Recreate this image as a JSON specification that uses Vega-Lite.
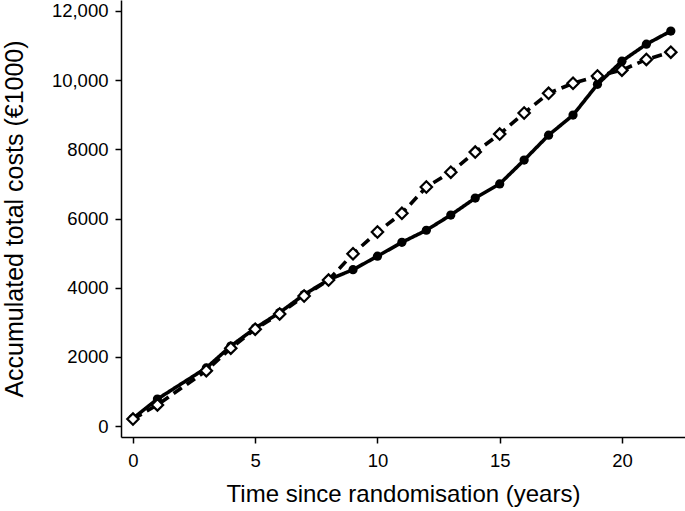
{
  "$schema": "https://vega.github.io/schema/vega-lite/v6.json",
  "width": 564,
  "height": 437,
  "autosize": "none",
  "padding": {"left": 121, "top": 0, "right": 0, "bottom": 74},
  "background": "white",
  "config": {
    "view": {"stroke": null},
    "font": "Liberation Sans",
    "axis": {
      "grid": false,
      "domainColor": "black",
      "domainWidth": 1.5,
      "tickColor": "black",
      "tickWidth": 1.5,
      "tickSize": 6,
      "labelColor": "black",
      "titleColor": "black",
      "labelFont": "Liberation Sans",
      "titleFont": "Liberation Sans",
      "labelFontSize": 18.5,
      "titleFontSize": 24,
      "titleFontWeight": "normal"
    }
  },
  "data": {
    "values": [
      {"year": 0, "cost": 220, "group": "A"},
      {"year": 1, "cost": 780, "group": "A"},
      {"year": 3, "cost": 1680, "group": "A"},
      {"year": 4, "cost": 2310, "group": "A"},
      {"year": 5, "cost": 2830, "group": "A"},
      {"year": 6, "cost": 3280, "group": "A"},
      {"year": 7, "cost": 3800, "group": "A"},
      {"year": 8, "cost": 4230, "group": "A"},
      {"year": 9, "cost": 4520, "group": "A"},
      {"year": 10, "cost": 4910, "group": "A"},
      {"year": 11, "cost": 5310, "group": "A"},
      {"year": 12, "cost": 5660, "group": "A"},
      {"year": 13, "cost": 6100, "group": "A"},
      {"year": 14, "cost": 6590, "group": "A"},
      {"year": 15, "cost": 7000, "group": "A"},
      {"year": 16, "cost": 7690, "group": "A"},
      {"year": 17, "cost": 8410, "group": "A"},
      {"year": 18, "cost": 8990, "group": "A"},
      {"year": 19, "cost": 9880, "group": "A"},
      {"year": 20, "cost": 10550, "group": "A"},
      {"year": 21, "cost": 11040, "group": "A"},
      {"year": 22, "cost": 11420, "group": "A"},
      {"year": 0, "cost": 200, "group": "B"},
      {"year": 1, "cost": 610, "group": "B"},
      {"year": 3, "cost": 1600, "group": "B"},
      {"year": 4, "cost": 2250, "group": "B"},
      {"year": 5, "cost": 2800, "group": "B"},
      {"year": 6, "cost": 3240, "group": "B"},
      {"year": 7, "cost": 3760, "group": "B"},
      {"year": 8, "cost": 4220, "group": "B"},
      {"year": 9, "cost": 4980, "group": "B"},
      {"year": 10, "cost": 5610, "group": "B"},
      {"year": 11, "cost": 6150, "group": "B"},
      {"year": 12, "cost": 6910, "group": "B"},
      {"year": 13, "cost": 7340, "group": "B"},
      {"year": 14, "cost": 7920, "group": "B"},
      {"year": 15, "cost": 8440, "group": "B"},
      {"year": 16, "cost": 9050, "group": "B"},
      {"year": 17, "cost": 9620, "group": "B"},
      {"year": 18, "cost": 9910, "group": "B"},
      {"year": 19, "cost": 10120, "group": "B"},
      {"year": 20, "cost": 10290, "group": "B"},
      {"year": 21, "cost": 10600, "group": "B"},
      {"year": 22, "cost": 10810, "group": "B"}
    ]
  },
  "encoding": {
    "x": {
      "field": "year",
      "type": "quantitative",
      "scale": {"domain": [-0.49, 22.58], "nice": false, "zero": false},
      "axis": {"values": [0, 5, 10, 15, 20], "title": "Time since randomisation (years)", "titlePadding": 13, "labelPadding": 8}
    },
    "y": {
      "field": "cost",
      "type": "quantitative",
      "scale": {"domain": [-318, 12318], "nice": false, "zero": false},
      "axis": {
        "values": [0, 2000, 4000, 6000, 8000, 10000, 12000],
        "labelExpr": "datum.value >= 10000 ? format(datum.value, ',') : format(datum.value, 'd')",
        "title": "Accumulated total costs (€1000)",
        "titleFontSize": 25,
        "titlePadding": 24,
        "labelPadding": 7
      }
    }
  },
  "layer": [
    {
      "mark": {"type": "line", "color": "black", "strokeWidth": 3.6},
      "encoding": {
        "detail": {"field": "group"},
        "strokeDash": {
          "field": "group",
          "type": "nominal",
          "scale": {"domain": ["A", "B"], "range": [[1, 0], [10, 6]]},
          "legend": null
        }
      }
    },
    {
      "transform": [{"filter": "datum.group === 'A'"}],
      "mark": {"type": "point", "shape": "circle", "filled": true, "color": "black", "size": 85, "opacity": 1}
    },
    {
      "transform": [{"filter": "datum.group === 'B'"}],
      "mark": {"type": "point", "shape": "diamond", "fill": "white", "stroke": "black", "strokeWidth": 2.2, "size": 130, "opacity": 1, "fillOpacity": 1}
    }
  ]
}
